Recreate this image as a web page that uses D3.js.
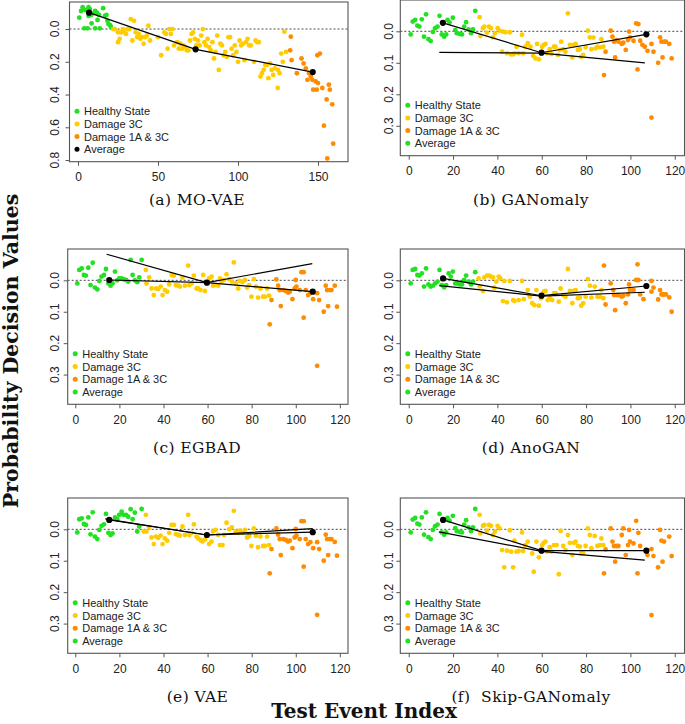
<!DOCTYPE html>
<html><head><meta charset="utf-8">
<script src="https://cdn.jsdelivr.net/npm/d3@7"></script>
<style>body{margin:0;background:#fff} svg{display:block}</style>
</head><body>
<svg id="chart" width="685" height="724"></svg>
<script>
// ---------------- DATA ----------------
const seriesNames = ["Healthy State", "Damage 3C", "Damage 1A & 3C", "Average"];
const xTicksA = [0, 50, 100, 150];
const yTicksA = [0.0, 0.2, 0.4, 0.6, 0.8];
const xTicksB = [0, 20, 40, 60, 80, 100, 120];
const yTicksB = [0.0, 0.1, 0.2, 0.3];

// (a) MO-VAE
const moVaeHealthy = [[0.8,-0.069],[1.9,-0.11],[2.9,-0.133],[4.5,-0.116],[3.9,-0.004],[6,-0.004],[6.6,-0.133],[7.4,-0.122],[6.6,-0.08],[8.1,-0.086],[8.5,-0.035],[9.7,-0.096],[10.7,-0.11],[10.7,-0.004],[11.8,-0.1],[12.2,-0.055],[13.2,-0.086],[13.6,-0.004],[15.7,-0.127],[16.9,-0.08],[17.8,-0.086],[19,-0.031],[20,-0.024],[18.4,-0.051],[20.5,-0.014]];
const moVaeD3C = [[22,0.0],[23,0.0],[25,0.02],[25,0.08],[26,0.06],[27,0.02],[28,0.0],[29,0.02],[30,0.03],[31,0.0],[32,0.0],[33,-0.06],[34,0.07],[35,-0.05],[36,0.02],[37,0.05],[38,0.03],[39,0.06],[40,0.05],[41,0.09],[42,0.05],[43,0.04],[44,-0.02],[45,0.07],[50,0.05],[52,0.16],[54,0.02],[55,0.03],[56,0.12],[57,0.0],[58,0.03],[59,0.0],[60,0.1],[62,0.08],[63,0.12],[64,0.09],[65,0.12],[66,0.1],[67,0.11],[68,0.13],[69,0.13],[70,0.07],[71,0.03],[72,0.02],[73,0.06],[74,0.1],[75,0.07],[76,0.1],[77,0.04],[78,0.0],[79,0.08],[80,0.1],[81,0.06],[82,0.11],[83,0.13],[84,0.08],[85,0.18],[86,0.14],[87,0.04],[88,0.25],[89,0.09],[90,0.1],[91,0.16],[92,0.14],[93,0.17],[94,0.05],[95,0.05],[96,0.12],[97,0.16],[98,0.1],[99,0.14],[100,0.2],[101,0.07],[102,0.1],[103,0.09],[104,0.19],[105,0.08],[106,0.06],[107,0.1],[108,0.1],[110,0.2],[111,0.07],[112,0.08],[113,0.08],[114,0.29],[115,0.27],[116,0.25],[117,0.22],[118,0.22],[119,0.3],[120,0.21],[121,0.25],[122,0.28],[123,0.24],[124.8,0.36],[125,0.25],[126,0.27],[127,0.15],[128,0.2],[129,0.016],[130,0.14]];
const moVaeD13 = [[133,0.047],[132.6,0.13],[133.5,0.19],[136.8,0.27],[139.7,0.18],[141,0.21],[142.4,0.24],[143.4,0.31],[144.4,0.27],[145.5,0.29],[146.5,0.31],[147,0.37],[148.6,0.32],[149.2,0.37],[149.6,0.16],[150,0.33],[151.2,0.15],[152.7,0.36],[153.7,0.59],[155.4,0.43],[155.8,0.79],[156.8,0.34],[157.4,0.37],[158.9,0.46],[159.5,0.70]];
const moVaeAvg = [[6.9,-0.1],[73.5,0.124],[146.7,0.263]];

// (b) GANomaly
const ganHealthy = [[0.9,0.01],[1.8,-0.031],[2.9,-0.036],[3.9,-0.018],[4.8,-0.015],[5.9,-0.038],[6.9,0.017],[7.8,-0.054],[8.9,0.025],[9.9,0.031],[10.9,0.002],[11.9,-0.01],[13,-0.015],[13.9,-0.049],[14.9,0.01],[16,0.017],[16.9,0.01],[17.5,-0.036],[18.4,-0.028],[19.9,-0.043],[21,-0.004],[21.7,0.006],[22.9,0.008],[24,0.01],[25,-0.015],[25.9,-0.029],[27,-0.006],[28.1,0.006],[29,-0.006],[30,-0.065]];
const ganD3C = [[32,-0.045],[32.3,0.015],[33.5,-0.01],[34.1,-0.015],[35.3,0.004],[36.2,-0.015],[37.1,-0.01],[38,0.019],[38.9,0.006],[40.1,-0.01],[41,-0.002],[42.1,0.065],[42.5,0.001],[43.6,0.003],[44.3,0.07],[45.6,0.003],[46.2,0.073],[47.1,0.073],[47.7,0.07],[48.6,0.049],[49.6,0.07],[51.1,0.011],[51.6,0.07],[52.6,0.049],[53.7,0.038],[54.9,0.049],[56.1,0.078],[57.2,0.086],[57.9,0.04],[58.7,0.089],[60.2,0.049],[60.9,0.043],[61.7,0.04],[62.4,0.07],[63.6,0.057],[64.4,0.072],[65.5,0.049],[66.2,0.049],[67.3,0.075],[68.2,0.059],[68.8,0.033],[69.7,0.057],[70.7,0.065],[71.8,-0.057],[72.7,0.043],[73.8,0.083],[74.5,0.043],[75.3,0.04],[76.3,0.059],[77.2,0.057],[77.8,0.081],[78.7,0.075],[79.8,0.051],[80.8,-0.002],[81.7,0.019],[82.4,0.057],[83.3,0.02],[84.3,0.054],[85.1,0.049],[86.3,0.051],[86.9,0.025],[87.8,0.049]];
const ganD13 = [[88.1,0.139],[88.8,0.065],[91.1,-0.002],[91.9,0.017],[92.6,0.033],[93.1,0.083],[93.8,0.028],[94.6,0.033],[96.1,0.04],[96.8,0.036],[97.9,0.059],[98.9,0.028],[99.4,0.001],[99.8,0.019],[101.4,0.03],[102.6,-0.025],[103.6,-0.023],[103.2,0.121],[104.4,0.03],[105.4,0.043],[106.5,0.049],[107.7,0.062],[109.5,0.04],[109.5,0.274],[110.4,0.065],[112.5,0.1],[113.4,0.019],[114,0.033],[114.5,0.083],[115.2,0.033],[116,0.033],[117.5,0.04],[118.6,0.086]];
const ganAvg = [[15.4,-0.027],[59.9,0.068],[107.2,0.0095]];
const ganAux = [[13.8,0.067],[59.9,0.069],[106.5,0.1]];

// (c) EGBAD
const egbadHealthy = [[0.9,0.01],[1.8,-0.033],[2.9,-0.038],[3.9,-0.017],[4.8,-0.015],[5.9,-0.04],[6.9,0.015],[7.9,-0.056],[8.9,0.023],[10,0.029],[10.9,0.002],[11.9,-0.012],[13,-0.017],[13.9,-0.036],[15,0.01],[16,0.017],[16.9,0.01],[18,-0.028],[19,0.0],[19.9,-0.006],[21,-0.006],[22,-0.003],[23,-0.001],[24,0.004],[25.1,-0.065],[26,-0.017],[27,0.0],[28.1,0.006],[29,-0.009],[30.1,-0.065]];
const egbadD3C = [[32,-0.033],[32.3,0.01],[33.5,-0.009],[34.6,0.026],[35.6,0.047],[36.6,0.026],[37.6,0.028],[38.7,0.02],[39.6,0.047],[40.6,0.031],[41.7,0.036],[42.6,0.013],[43.7,-0.017],[44.7,-0.015],[45.6,0.015],[46.7,0.017],[47.4,0.02],[48.6,-0.009],[49.7,0.017],[51.2,-0.047],[51.7,0.015],[52.7,0.01],[53.8,-0.015],[55,0.026],[55.7,0.026],[56.8,0.031],[58,-0.017],[58.8,0.034],[60.7,-0.006],[61.8,-0.012],[62.5,0.017],[63.7,0.015],[64.8,0.017],[65.6,-0.006],[66.3,0.004],[67.4,-0.001],[68.6,-0.019],[69.8,-0.004],[71,0.004],[71.9,-0.057],[72.8,0.01],[73.9,0.026],[74.6,0.002],[75.8,0.006],[76.9,-0.001],[77.9,0.023],[78.9,0.015],[79.9,0.052],[81,-0.004],[81.9,0.02],[82.9,0.055],[84,0.026],[85.2,0.052],[86,0.052],[87,0.026],[87.9,0.049]];
const egbadD13 = [[88.2,0.14],[89,0.063],[91.2,-0.003],[92,0.017],[92.7,0.031],[93.2,0.082],[94.3,0.031],[95.5,0.034],[96.5,0.039],[97.3,0.036],[98.5,0.06],[99.5,0.026],[100,-0.001],[100.3,0.02],[101.8,0.031],[102.6,-0.026],[103.6,-0.026],[103.6,0.119],[104.5,0.031],[105.6,0.047],[106.6,0.041],[107.9,0.06],[109.7,0.041],[109.7,0.272],[110.6,0.063],[112.7,0.1],[113.6,0.017],[114.2,0.031],[114.7,0.082],[115.4,0.031],[116.2,0.031],[117.7,0.017],[118.7,0.084]];
const egbadAvg = [[15.4,-0.001],[59.7,0.0075],[107.7,0.036]];
const egbadAux = [[14.2,-0.083],[59.7,0.007],[107.5,-0.053]];

// (d) AnoGAN
const anoHealthy = [[0.9,0.01],[1.8,-0.033],[2.9,-0.036],[3.9,-0.017],[4.8,-0.015],[5.9,-0.022],[6.9,0.02],[7.8,-0.038],[8.9,0.013],[9.9,0.02],[10.9,0.017],[11.9,0.01],[13,0.004],[13.9,-0.033],[14.9,0.015],[16,0.022],[16.9,0.015],[18,-0.022],[19,-0.012],[19.9,-0.028],[21,0.01],[21.9,0.01],[22.9,0.013],[24,0.013],[25,-0.001],[25.9,-0.015],[27,0.004],[28.1,0.013],[29,0.004],[30,-0.026]];
const anoD3C = [[31.5,-0.006],[32,0.02],[33.5,0.034],[34.1,-0.009],[35.3,-0.015],[36.3,-0.015],[37.1,-0.012],[38,-0.009],[38.6,0.023],[39.5,0.004],[40.6,-0.012],[41.3,-0.006],[42.5,0.066],[43.1,0.002],[44.3,0.07],[45.6,0.002],[47.1,0.063],[47.7,0.066],[49.6,0.063],[51.1,0.002],[51.9,0.06],[53.7,0.031],[54.6,0.052],[55.7,0.073],[56.7,0.079],[57.6,0.031],[58.7,0.081],[59.7,0.057],[60.9,0.036],[61.7,0.034],[62.7,0.063],[63.6,0.057],[64.7,0.063],[65.5,0.041],[66.2,0.041],[67.7,0.068],[68.5,0.026],[69.7,0.047],[70.7,0.052],[71.8,-0.036],[72.7,0.034],[73.8,0.073],[74.5,0.034],[75.3,0.031],[76.3,0.057],[77.2,0.055],[77.8,0.081],[78.7,0.073],[79.8,0.052],[80.8,-0.004],[81.7,0.017],[82.4,0.055],[83.9,0.02],[85.1,0.052],[86.3,0.052],[86.9,0.031],[87.8,0.057]];
const anoD13 = [[88.1,-0.047],[88.8,0.077],[91.1,0.01],[92.3,0.031],[92.6,0.047],[93.1,0.095],[93.8,0.047],[94.6,0.047],[96.1,0.052],[96.8,0.049],[97.9,0.073],[98.9,0.045],[99.4,0.013],[99.8,0.031],[101.4,0.031],[102.6,-0.001],[103.2,-0.051],[103.6,-0.001],[104.4,0.045],[105.9,0.06],[109.5,0.002],[109.5,0.036],[110.4,0.023],[112.5,0.061],[113.4,0.031],[114,0.045],[114.6,0.045],[115.2,0.045],[116,0.045],[117.5,0.054],[118.6,0.1]];
const anoAvg = [[15.5,-0.006],[59.9,0.049],[107.2,0.018]];
const anoAux = [[13.8,0.017],[59.9,0.05],[106.5,0.038]];

// (e) VAE
const vaeHealthy = [[0.9,0.01],[1.8,-0.032],[2.9,-0.035],[3.9,-0.017],[4.8,-0.014],[5.9,-0.038],[6.9,0.016],[7.9,-0.054],[8.9,0.023],[10,0.031],[10.9,0.002],[11.9,-0.011],[13,-0.016],[13.9,-0.049],[15,0.011],[16,0.018],[16.9,0.013],[18,-0.038],[19,-0.032],[19.9,-0.046],[21,-0.056],[21.8,-0.046],[23,-0.046],[24,-0.04],[25.1,-0.064],[26,-0.032],[27,-0.053],[28.1,0.007],[29,-0.009],[30.1,-0.065]];
const vaeD3C = [[31,0.007],[32,-0.046],[32.3,0.007],[33.5,-0.006],[34.6,0.026],[35.6,0.047],[36.6,0.023],[37.6,0.027],[38.7,0.02],[39.6,0.047],[40.6,0.029],[41.7,0.036],[42.6,0.011],[43.7,-0.014],[44.7,-0.014],[45.6,0.015],[46.7,0.018],[47.4,0.02],[48.6,-0.009],[49.7,0.018],[51.2,-0.046],[51.7,0.018],[52.7,0.011],[53.8,-0.016],[55,0.023],[55.7,0.029],[56.8,0.034],[57.7,0.039],[58.8,0.032],[60.7,0.047],[61.8,0.039],[62.5,0.007],[63.7,0.002],[64.8,0.018],[65.6,0.05],[66.8,0.05],[67.5,0.018],[68.6,-0.021],[69.8,0.0],[71,-0.006],[71.9,-0.059],[72.8,0.007],[73.9,0.011],[74.6,0.004],[75.8,0.011],[76.9,0.002],[77.9,0.026],[78.9,0.021],[79.9,0.053],[81,-0.003],[81.9,0.021],[82.9,0.057],[84,0.023],[85.2,0.053],[86,0.053],[87,0.023],[87.9,0.05]];
const vaeD13 = [[88.2,0.14],[89,0.063],[91.2,-0.003],[92,0.017],[92.7,0.031],[93.2,0.082],[94.3,0.031],[95.5,0.034],[96.5,0.039],[97.3,0.036],[98.5,0.06],[99.5,0.026],[100,-0.001],[100.3,0.02],[101.8,0.031],[102.6,-0.026],[103.6,-0.026],[103.6,0.119],[104.5,0.031],[105.6,0.047],[106.6,0.041],[107.9,0.06],[109.7,0.041],[109.7,0.272],[110.6,0.063],[112.7,0.1],[113.6,0.017],[114.2,0.031],[114.7,0.082],[115.4,0.031],[116.2,0.031],[117.7,0.04],[118.7,0.084]];
const vaeAvg = [[15.4,-0.03],[59.7,0.018],[107.7,0.009]];
const vaeAux = [[13.6,-0.033],[59.7,0.018],[107.7,-0.002]];

// (f) Skip-GANomaly
const skipHealthy = ganHealthy.map(d => d.slice());
const skipD3C = [[32,-0.046],[32.3,0.013],[33.5,-0.011],[34.1,-0.014],[35.3,0.004],[36.2,-0.014],[37.1,-0.011],[38,0.018],[38.9,0.007],[40.1,-0.011],[41,-0.003],[42.1,0.066],[43.1,0.121],[44.3,0.068],[45.6,0.003],[46.2,0.071],[47.1,0.121],[47.7,0.036],[48.6,0.071],[49.6,0.069],[51.1,0.01],[51.6,0.069],[52.6,0.05],[53.7,0.039],[55.7,0.077],[56.4,0.135],[57.6,0.039],[58.7,0.089],[60.2,0.05],[60.9,0.043],[61.7,0.039],[62.4,0.071],[63.6,0.057],[64.4,0.071],[65.5,0.05],[66.7,0.05],[67.7,0.143],[68.5,0.005],[69.7,0.053],[70.7,0.066],[71.8,0.018],[72.7,0.043],[73.8,0.082],[74.5,0.043],[75.3,0.039],[76.3,0.053],[77.2,0.055],[77.8,0.077],[78.7,0.077],[79.8,0.053],[80.8,-0.003],[81.7,0.018],[82.4,0.06],[83.9,0.021],[85.1,0.053],[86.3,0.05],[86.9,0.029],[87.8,0.05]];
const skipD13 = [[88.1,0.14],[88.8,0.064],[91.1,-0.003],[91.9,0.039],[92.6,0.053],[93.1,0.103],[93.8,0.053],[94.6,0.053],[96.1,0.018],[96.8,-0.003],[97.9,0.082],[98.9,0.05],[99.4,0.002],[99.8,0.039],[101.4,0.045],[102.6,-0.027],[103.2,0.14],[103.6,0.011],[104.4,0.053],[107.7,0.082],[109.5,0.063],[109.5,0.273],[110.4,0.085],[112.5,0.121],[113.4,0.002],[114,0.036],[114.5,0.103],[115.2,0.039],[117.5,0.023],[118.6,0.085]];
const skipAvg = [[15.5,-0.03],[59.9,0.068],[107.2,0.068]];
const skipAux = [[13.6,0.008],[59.9,0.07],[106.5,0.098]];

// ---------------- LAYOUT / STYLE ----------------
const COLORS = {healthy:"#22e022", d3c:"#ffcc00", d13:"#ff8c00", avg:"#000000"};
const panels = [
  {cap:"(a) MO-VAE", capX:197, capY:205, box:[69.5,2,348,161.7], xd:[-5.31,168.75], yd:[-0.165,0.81], xt:xTicksA, yt:yTicksA, ylOff:-10.5,
   h:moVaeHealthy, c:moVaeD3C, o:moVaeD13, avg:moVaeAvg, aux:null, avgLegend:"#000"},
  {cap:"(b) GANomaly", capX:531, capY:205, box:[400.3,0,684.5,155.7], xd:[-3.8,124.4], yd:[-0.0994,0.395], xt:xTicksB, yt:yTicksB, ylOff:-7,
   h:ganHealthy, c:ganD3C, o:ganD13, avg:ganAvg, aux:ganAux, avgLegend:COLORS.healthy},
  {cap:"(c) EGBAD", capX:197, capY:452.5, box:[67.7,249,348,404.3], xd:[-3.45,123.7], yd:[-0.0997,0.3946], xt:xTicksB, yt:yTicksB, ylOff:-9,
   h:egbadHealthy, c:egbadD3C, o:egbadD13, avg:egbadAvg, aux:egbadAux, avgLegend:COLORS.healthy},
  {cap:"(d) AnoGAN", capX:531, capY:452.5, box:[400.3,249,684.5,404.3], xd:[-3.8,124.4], yd:[-0.0997,0.3946], xt:xTicksB, yt:yTicksB, ylOff:-7,
   h:anoHealthy, c:anoD3C, o:anoD13, avg:anoAvg, aux:anoAux, avgLegend:COLORS.healthy},
  {cap:"(e) VAE", capX:197.5, capY:702, box:[67.7,498,348,653.3], xd:[-3.45,123.7], yd:[-0.0997,0.3946], xt:xTicksB, yt:yTicksB, ylOff:-9,
   h:vaeHealthy, c:vaeD3C, o:vaeD13, avg:vaeAvg, aux:vaeAux, avgLegend:COLORS.healthy},
  {cap:"(f)  Skip-GANomaly", capX:531, capY:702, box:[400.3,498,684.5,653.3], xd:[-3.8,124.4], yd:[-0.0997,0.3946], xt:xTicksB, yt:yTicksB, ylOff:-7,
   h:skipHealthy, c:skipD3C, o:skipD13, avg:skipAvg, aux:skipAux, avgLegend:COLORS.healthy}
];

const svg = d3.select("#chart");
const tickFont = "'Liberation Sans', Arial, sans-serif";
const serif = "'DejaVu Serif', serif";

panels.forEach(p => {
  const [L,T,R,B] = p.box;
  const x = d3.scaleLinear().domain(p.xd).range([L,R]);
  const y = d3.scaleLinear().domain(p.yd).range([T,B]);
  const g = svg.append("g");

  // zero reference line
  g.append("line").attr("x1",L).attr("x2",R).attr("y1",y(0)).attr("y2",y(0))
    .attr("stroke","#333").attr("stroke-width",0.9).attr("stroke-dasharray","2,2");

  // scatter
  [[p.h,COLORS.healthy],[p.c,COLORS.d3c],[p.o,COLORS.d13]].forEach(([data,col]) => {
    g.append("g").selectAll("circle").data(data).join("circle")
      .attr("cx", d => x(d[0])).attr("cy", d => y(d[1])).attr("r", 2.4).attr("fill", col);
  });

  const line = d3.line().x(d => x(d[0])).y(d => y(d[1]));
  if (p.aux) g.append("path").attr("d", line(p.aux)).attr("fill","none").attr("stroke","#000").attr("stroke-width",1.2);
  g.append("path").attr("d", line(p.avg)).attr("fill","none").attr("stroke","#000").attr("stroke-width",1.2);
  g.append("g").selectAll("circle").data(p.avg).join("circle")
    .attr("cx", d => x(d[0])).attr("cy", d => y(d[1])).attr("r", 3.1).attr("fill", "#000");

  // box
  g.append("rect").attr("x",L).attr("y",T).attr("width",R-L).attr("height",B-T)
    .attr("fill","none").attr("stroke","#555").attr("stroke-width",1.1);

  // x axis
  const xa = g.append("g").attr("transform",`translate(0,${B})`)
    .call(d3.axisBottom(x).tickValues(p.xt).tickSize(4).tickPadding(7).tickFormat(d3.format("d")));
  xa.select(".domain").remove();
  xa.selectAll("line").attr("stroke","#555");
  xa.selectAll("text").attr("font-family",tickFont).attr("font-size",12).attr("fill","#222");

  // y axis (rotated labels)
  const ya = g.append("g").attr("transform",`translate(${L},0)`)
    .call(d3.axisLeft(y).tickValues(p.yt).tickSize(4).tickFormat(""));
  ya.select(".domain").remove();
  ya.selectAll("line").attr("stroke","#555");
  g.append("g").selectAll("text").data(p.yt).join("text")
    .attr("x", L + p.ylOff).attr("y", d => y(d))
    .attr("transform", d => `rotate(-90,${L + p.ylOff},${y(d)})`)
    .attr("text-anchor","middle").attr("font-family",tickFont).attr("font-size",12).attr("fill","#222")
    .text(d => d3.format(".1f")(d));

  // legend
  const lx = L + 7.5, ly0 = B - 50.5, step = 12.7;
  const legCols = [COLORS.healthy, COLORS.d3c, COLORS.d13, p.avgLegend];
  seriesNames.forEach((name,i) => {
    g.append("circle").attr("cx",lx).attr("cy",ly0+i*step).attr("r",2.5).attr("fill",legCols[i]);
    g.append("text").attr("x",lx+7).attr("y",ly0+i*step+4)
      .attr("font-family",tickFont).attr("font-size",11).attr("fill","#222").text(name);
  });

  // caption
  g.append("text").attr("x",p.capX).attr("y",p.capY).attr("text-anchor","middle")
    .attr("font-family",serif).attr("font-size",15.5).attr("letter-spacing",0.4).attr("fill","#111")
    .attr("xml:space","preserve").style("white-space","pre").text(p.cap);
});

// global axis titles
svg.append("text").attr("x",364).attr("y",718).attr("text-anchor","middle")
  .attr("font-family",serif).attr("font-weight","bold").attr("font-size",20).attr("fill","#111")
  .text("Test Event Index");
svg.append("text").attr("transform","translate(18,351) rotate(-90)").attr("text-anchor","middle")
  .attr("font-family",serif).attr("font-weight","bold").attr("font-size",20.5).attr("fill","#111")
  .text("Probability Decision Values");
</script>
</body></html>
